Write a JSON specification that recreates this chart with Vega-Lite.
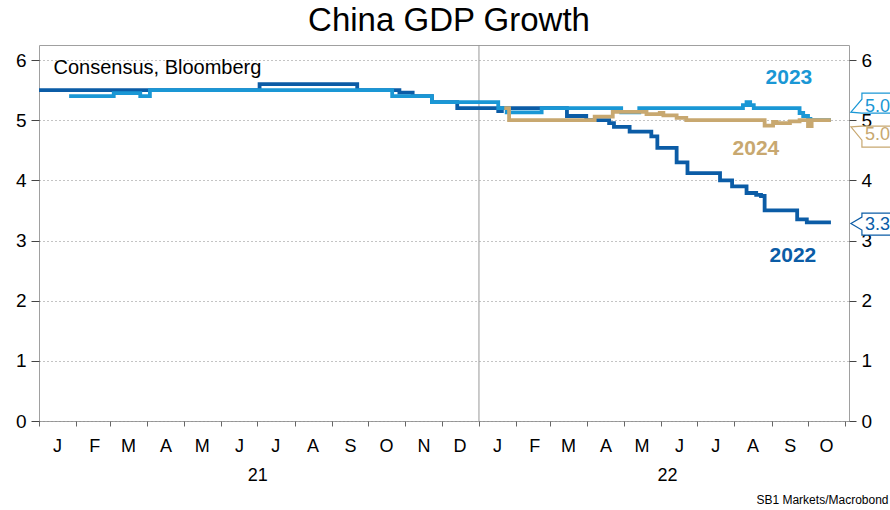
{
  "$schema": "https://vega.github.io/schema/vega-lite/v6.json",
  "width": 810,
  "height": 376,
  "autosize": {"type": "none"},
  "padding": {"left": 39, "top": 45, "right": 41, "bottom": 89},
  "background": "white",
  "config": {
    "font": "Liberation Sans",
    "view": {"stroke": "#a0a0a0", "strokeWidth": 1}
  },
  "title": {
    "text": "China GDP Growth",
    "fontSize": 33,
    "fontWeight": "normal",
    "font": "Liberation Sans",
    "color": "#000000",
    "anchor": "middle",
    "baseline": "alphabetic",
    "offset": 12,
    "dx": 5,
    "dy": 31
  },
  "datasets": {
    "series": [
      {"series": "2022", "date": "2021-01-01", "value": 5.5},
      {"series": "2022", "date": "2021-07-03", "value": 5.6},
      {"series": "2022", "date": "2021-09-22", "value": 5.5},
      {"series": "2022", "date": "2021-10-27", "value": 5.46},
      {"series": "2022", "date": "2021-11-07", "value": 5.4},
      {"series": "2022", "date": "2021-11-23", "value": 5.3},
      {"series": "2022", "date": "2021-12-14", "value": 5.2},
      {"series": "2022", "date": "2022-01-17", "value": 5.15},
      {"series": "2022", "date": "2022-01-20", "value": 5.2},
      {"series": "2022", "date": "2022-03-15", "value": 5.07},
      {"series": "2022", "date": "2022-03-31", "value": 5.0},
      {"series": "2022", "date": "2022-04-19", "value": 4.95},
      {"series": "2022", "date": "2022-04-23", "value": 4.89},
      {"series": "2022", "date": "2022-05-06", "value": 4.81},
      {"series": "2022", "date": "2022-05-24", "value": 4.73},
      {"series": "2022", "date": "2022-05-29", "value": 4.54},
      {"series": "2022", "date": "2022-06-14", "value": 4.3},
      {"series": "2022", "date": "2022-06-23", "value": 4.12},
      {"series": "2022", "date": "2022-07-20", "value": 4.0},
      {"series": "2022", "date": "2022-07-30", "value": 3.9},
      {"series": "2022", "date": "2022-08-11", "value": 3.79},
      {"series": "2022", "date": "2022-08-19", "value": 3.76},
      {"series": "2022", "date": "2022-08-23", "value": 3.74},
      {"series": "2022", "date": "2022-08-26", "value": 3.5},
      {"series": "2022", "date": "2022-09-22", "value": 3.35},
      {"series": "2022", "date": "2022-09-30", "value": 3.3},
      {"series": "2022", "date": "2022-10-20", "value": 3.3},
      {"series": "2023", "date": "2021-01-26", "value": 5.4},
      {"series": "2023", "date": "2021-03-04", "value": 5.45},
      {"series": "2023", "date": "2021-03-26", "value": 5.4},
      {"series": "2023", "date": "2021-04-03", "value": 5.5},
      {"series": "2023", "date": "2021-10-21", "value": 5.4},
      {"series": "2023", "date": "2021-11-23", "value": 5.3},
      {"series": "2023", "date": "2022-01-17", "value": 5.2},
      {"series": "2023", "date": "2022-01-24", "value": 5.13},
      {"series": "2023", "date": "2022-02-22", "value": 5.2},
      {"series": "2023", "date": "2022-04-29", "value": 5.13},
      {"series": "2023", "date": "2022-05-14", "value": 5.2},
      {"series": "2023", "date": "2022-08-08", "value": 5.25},
      {"series": "2023", "date": "2022-08-11", "value": 5.3},
      {"series": "2023", "date": "2022-08-14", "value": 5.25},
      {"series": "2023", "date": "2022-08-17", "value": 5.2},
      {"series": "2023", "date": "2022-09-24", "value": 5.12},
      {"series": "2023", "date": "2022-09-27", "value": 5.07},
      {"series": "2023", "date": "2022-10-01", "value": 5.02},
      {"series": "2023", "date": "2022-10-03", "value": 5.0},
      {"series": "2023", "date": "2022-10-20", "value": 5.0},
      {"series": "2024", "date": "2022-01-22", "value": 5.2},
      {"series": "2024", "date": "2022-01-26", "value": 5.0},
      {"series": "2024", "date": "2022-04-07", "value": 5.06},
      {"series": "2024", "date": "2022-04-22", "value": 5.14},
      {"series": "2024", "date": "2022-05-20", "value": 5.1},
      {"series": "2024", "date": "2022-05-31", "value": 5.12},
      {"series": "2024", "date": "2022-06-03", "value": 5.08},
      {"series": "2024", "date": "2022-06-14", "value": 5.04},
      {"series": "2024", "date": "2022-06-22", "value": 5.0},
      {"series": "2024", "date": "2022-08-26", "value": 4.91},
      {"series": "2024", "date": "2022-09-02", "value": 4.97},
      {"series": "2024", "date": "2022-09-05", "value": 4.95},
      {"series": "2024", "date": "2022-09-16", "value": 4.98},
      {"series": "2024", "date": "2022-09-24", "value": 5.0},
      {"series": "2024", "date": "2022-10-01", "value": 4.9},
      {"series": "2024", "date": "2022-10-04", "value": 5.0},
      {"series": "2024", "date": "2022-10-20", "value": 5.0}
    ],
    "ends": [
      {"series": "2022", "date": "2022-10-20", "value": 3.3, "label": "3.3"},
      {"series": "2023", "date": "2022-10-20", "value": 5.0, "label": "5.0"},
      {"series": "2024", "date": "2022-10-20", "value": 5.0, "label": "5.0"}
    ],
    "yearline": [
      {"date": "2022-01-01"}
    ]
  },
  "resolve": {"axis": {"x": "independent", "y": "independent"}},
  "layer": [
    {
      "data": {"name": "yearline"},
      "mark": {"type": "rule", "color": "#999999", "strokeWidth": 1},
      "encoding": {
        "x": {
          "field": "date", "type": "temporal",
          "scale": {"type": "utc", "domain": [{"year": 2021, "month": 1, "date": 1, "utc": true}, {"year": 2022, "month": 11, "date": 4, "utc": true}]},
          "axis": {
            "orient": "bottom",
            "values": [{"year": 2021, "month": 7, "date": 1, "utc": true}, {"year": 2022, "month": 6, "date": 6, "utc": true}],
            "labelExpr": "utcFormat(datum.value, '%y')",
            "ticks": false, "domain": false, "grid": false,
            "labelPadding": 59, "labelBaseline": "alphabetic",
            "labelFlush": false, "labelOverlap": false, "labelBound": false,
            "labelFontSize": 18, "labelColor": "#000000", "labelFont": "Liberation Sans",
            "title": "SB1 Markets/Macrobond",
            "titleFontSize": 12, "titleFontWeight": "normal", "titleColor": "#000000", "titleFont": "Liberation Sans",
            "titleX": 849, "titleY": 82, "titleAlign": "right", "titleBaseline": "alphabetic", "titleAnchor": "end"
          }
        }
      }
    },
    {
      "data": {"name": "series"},
      "mark": {"type": "line", "interpolate": "step-after", "strokeWidth": 3.8},
      "encoding": {
        "x": {
          "field": "date", "type": "temporal",
          "scale": {"type": "utc", "domain": [{"year": 2021, "month": 1, "date": 1, "utc": true}, {"year": 2022, "month": 11, "date": 4, "utc": true}]},
          "axis": {
            "orient": "bottom",
            "values": [
              {"year": 2021, "month": 1, "date": 1, "utc": true},
              {"year": 2021, "month": 2, "date": 1, "utc": true},
              {"year": 2021, "month": 3, "date": 1, "utc": true},
              {"year": 2021, "month": 4, "date": 1, "utc": true},
              {"year": 2021, "month": 5, "date": 1, "utc": true},
              {"year": 2021, "month": 6, "date": 1, "utc": true},
              {"year": 2021, "month": 7, "date": 1, "utc": true},
              {"year": 2021, "month": 8, "date": 1, "utc": true},
              {"year": 2021, "month": 9, "date": 1, "utc": true},
              {"year": 2021, "month": 10, "date": 1, "utc": true},
              {"year": 2021, "month": 11, "date": 1, "utc": true},
              {"year": 2021, "month": 12, "date": 1, "utc": true},
              {"year": 2022, "month": 1, "date": 1, "utc": true},
              {"year": 2022, "month": 2, "date": 1, "utc": true},
              {"year": 2022, "month": 3, "date": 1, "utc": true},
              {"year": 2022, "month": 4, "date": 1, "utc": true},
              {"year": 2022, "month": 5, "date": 1, "utc": true},
              {"year": 2022, "month": 6, "date": 1, "utc": true},
              {"year": 2022, "month": 7, "date": 1, "utc": true},
              {"year": 2022, "month": 8, "date": 1, "utc": true},
              {"year": 2022, "month": 9, "date": 1, "utc": true},
              {"year": 2022, "month": 10, "date": 1, "utc": true},
              {"year": 2022, "month": 11, "date": 1, "utc": true}
            ],
            "labelExpr": "datum.value >= utc(2022, 10, 1) ? '' : substring(utcFormat(datum.value, '%b'), 0, 1)",
            "labelOffset": 18,
            "labelFlush": false, "labelOverlap": false, "labelBound": false,
            "labelBaseline": "alphabetic", "labelPadding": 25,
            "labelFontSize": 18, "labelColor": "#000000", "labelFont": "Liberation Sans",
            "tickSize": 5, "tickColor": "#666666",
            "domain": false, "grid": false, "title": null
          }
        },
        "y": {
          "field": "value", "type": "quantitative",
          "scale": {"domain": [0, 6.25], "nice": false, "zero": true},
          "axis": {
            "orient": "left",
            "values": [0, 1, 2, 3, 4, 5, 6],
            "grid": true, "gridDash": [1, 3], "gridColor": "#888888", "gridWidth": 1,
            "domain": false, "tickSize": 8, "tickColor": "#444444",
            "labelPadding": 5, "labelFontSize": 19, "labelColor": "#000000", "labelFont": "Liberation Sans",
            "title": "Consensus, Bloomberg",
            "titleAngle": 0, "titleAlign": "left", "titleBaseline": "alphabetic",
            "titleX": 14, "titleY": 28.5,
            "titleFontSize": 20, "titleFontWeight": "normal", "titleColor": "#000000", "titleFont": "Liberation Sans"
          }
        },
        "color": {
          "field": "series", "type": "nominal",
          "scale": {"domain": ["2022", "2023", "2024"], "range": ["#0b5ca6", "#1a97d5", "#c8a870"]},
          "legend": null
        }
      }
    },
    {
      "data": {"name": "ends"},
      "mark": {"type": "point", "filled": true, "fill": "white", "opacity": 1, "strokeWidth": 1.2, "size": 1600},
      "encoding": {
        "x": {
          "field": "date", "type": "temporal",
          "scale": {"type": "utc", "domain": [{"year": 2021, "month": 1, "date": 1, "utc": true}, {"year": 2022, "month": 11, "date": 4, "utc": true}]},
          "axis": null
        },
        "y": {
          "field": "value", "type": "quantitative",
          "scale": {"domain": [0, 6.25], "nice": false, "zero": true},
          "axis": {
            "orient": "right",
            "values": [0, 1, 2, 3, 4, 5, 6],
            "grid": false, "domain": false, "tickSize": 7, "tickColor": "#444444",
            "labelPadding": 5, "labelFontSize": 19, "labelColor": "#000000", "labelFont": "Liberation Sans",
            "title": null
          }
        },
        "stroke": {
          "field": "series", "type": "nominal",
          "scale": {"domain": ["2022", "2023", "2024"], "range": ["#0b5ca6", "#1a97d5", "#c8a870"]},
          "legend": null
        },
        "shape": {
          "field": "series", "type": "nominal",
          "scale": {
            "domain": ["2022", "2023", "2024"],
            "range": [
              "M1 0.05 L1.55 -0.27 L1.55 -0.47 L3.5 -0.47 L3.5 0.63 L1.55 0.63 L1.55 0.38 Z",
              "M1 -0.4 L1.55 -1.05 L1.55 -1.35 L3.5 -1.35 L3.5 -0.35 L1.55 -0.35 Z",
              "M1 0.33 L1.55 0.3 L3.5 0.3 L3.5 1.35 L1.55 1.35 L1.55 1.0 Z"
            ]
          },
          "legend": null
        }
      }
    },
    {
      "data": {"name": "ends"},
      "transform": [{"filter": "datum.series === '2023'"}],
      "mark": {"type": "text", "align": "left", "baseline": "alphabetic", "dx": 34, "dy": -8, "fontSize": 18, "font": "Liberation Sans"},
      "encoding": {
        "x": {"field": "date", "type": "temporal", "scale": {"type": "utc", "domain": [{"year": 2021, "month": 1, "date": 1, "utc": true}, {"year": 2022, "month": 11, "date": 4, "utc": true}]}, "axis": null},
        "y": {"field": "value", "type": "quantitative", "scale": {"domain": [0, 6.25], "nice": false, "zero": true}, "axis": null},
        "text": {"field": "label"},
        "color": {"field": "series", "type": "nominal", "scale": {"domain": ["2022", "2023", "2024"], "range": ["#0b5ca6", "#1a97d5", "#c8a870"]}, "legend": null}
      }
    },
    {
      "data": {"name": "ends"},
      "transform": [{"filter": "datum.series === '2024'"}],
      "mark": {"type": "text", "align": "left", "baseline": "alphabetic", "dx": 34, "dy": 20, "fontSize": 18, "font": "Liberation Sans"},
      "encoding": {
        "x": {"field": "date", "type": "temporal", "scale": {"type": "utc", "domain": [{"year": 2021, "month": 1, "date": 1, "utc": true}, {"year": 2022, "month": 11, "date": 4, "utc": true}]}, "axis": null},
        "y": {"field": "value", "type": "quantitative", "scale": {"domain": [0, 6.25], "nice": false, "zero": true}, "axis": null},
        "text": {"field": "label"},
        "color": {"field": "series", "type": "nominal", "scale": {"domain": ["2022", "2023", "2024"], "range": ["#0b5ca6", "#1a97d5", "#c8a870"]}, "legend": null}
      }
    },
    {
      "data": {"name": "ends"},
      "transform": [{"filter": "datum.series === '2022'"}],
      "mark": {"type": "text", "align": "left", "baseline": "alphabetic", "dx": 34, "dy": 8, "fontSize": 18, "font": "Liberation Sans"},
      "encoding": {
        "x": {"field": "date", "type": "temporal", "scale": {"type": "utc", "domain": [{"year": 2021, "month": 1, "date": 1, "utc": true}, {"year": 2022, "month": 11, "date": 4, "utc": true}]}, "axis": null},
        "y": {"field": "value", "type": "quantitative", "scale": {"domain": [0, 6.25], "nice": false, "zero": true}, "axis": null},
        "text": {"field": "label"},
        "color": {"field": "series", "type": "nominal", "scale": {"domain": ["2022", "2023", "2024"], "range": ["#0b5ca6", "#1a97d5", "#c8a870"]}, "legend": null}
      }
    },
    {
      "data": {"name": "ends"},
      "transform": [{"filter": "datum.series === '2023'"}],
      "mark": {"type": "text", "align": "center", "baseline": "alphabetic", "dx": -42, "dy": -36, "fontSize": 21, "fontWeight": "bold", "font": "Liberation Sans"},
      "encoding": {
        "x": {"field": "date", "type": "temporal", "scale": {"type": "utc", "domain": [{"year": 2021, "month": 1, "date": 1, "utc": true}, {"year": 2022, "month": 11, "date": 4, "utc": true}]}, "axis": null},
        "y": {"field": "value", "type": "quantitative", "scale": {"domain": [0, 6.25], "nice": false, "zero": true}, "axis": null},
        "text": {"field": "series"},
        "color": {"field": "series", "type": "nominal", "scale": {"domain": ["2022", "2023", "2024"], "range": ["#0b5ca6", "#1a97d5", "#c8a870"]}, "legend": null}
      }
    },
    {
      "data": {"name": "ends"},
      "transform": [{"filter": "datum.series === '2024'"}],
      "mark": {"type": "text", "align": "center", "baseline": "alphabetic", "dx": -75, "dy": 35, "fontSize": 21, "fontWeight": "bold", "font": "Liberation Sans"},
      "encoding": {
        "x": {"field": "date", "type": "temporal", "scale": {"type": "utc", "domain": [{"year": 2021, "month": 1, "date": 1, "utc": true}, {"year": 2022, "month": 11, "date": 4, "utc": true}]}, "axis": null},
        "y": {"field": "value", "type": "quantitative", "scale": {"domain": [0, 6.25], "nice": false, "zero": true}, "axis": null},
        "text": {"field": "series"},
        "color": {"field": "series", "type": "nominal", "scale": {"domain": ["2022", "2023", "2024"], "range": ["#0b5ca6", "#1a97d5", "#c8a870"]}, "legend": null}
      }
    },
    {
      "data": {"name": "ends"},
      "transform": [{"filter": "datum.series === '2022'"}],
      "mark": {"type": "text", "align": "center", "baseline": "alphabetic", "dx": -38, "dy": 40, "fontSize": 21, "fontWeight": "bold", "font": "Liberation Sans"},
      "encoding": {
        "x": {"field": "date", "type": "temporal", "scale": {"type": "utc", "domain": [{"year": 2021, "month": 1, "date": 1, "utc": true}, {"year": 2022, "month": 11, "date": 4, "utc": true}]}, "axis": null},
        "y": {"field": "value", "type": "quantitative", "scale": {"domain": [0, 6.25], "nice": false, "zero": true}, "axis": null},
        "text": {"field": "series"},
        "color": {"field": "series", "type": "nominal", "scale": {"domain": ["2022", "2023", "2024"], "range": ["#0b5ca6", "#1a97d5", "#c8a870"]}, "legend": null}
      }
    }
  ]
}
